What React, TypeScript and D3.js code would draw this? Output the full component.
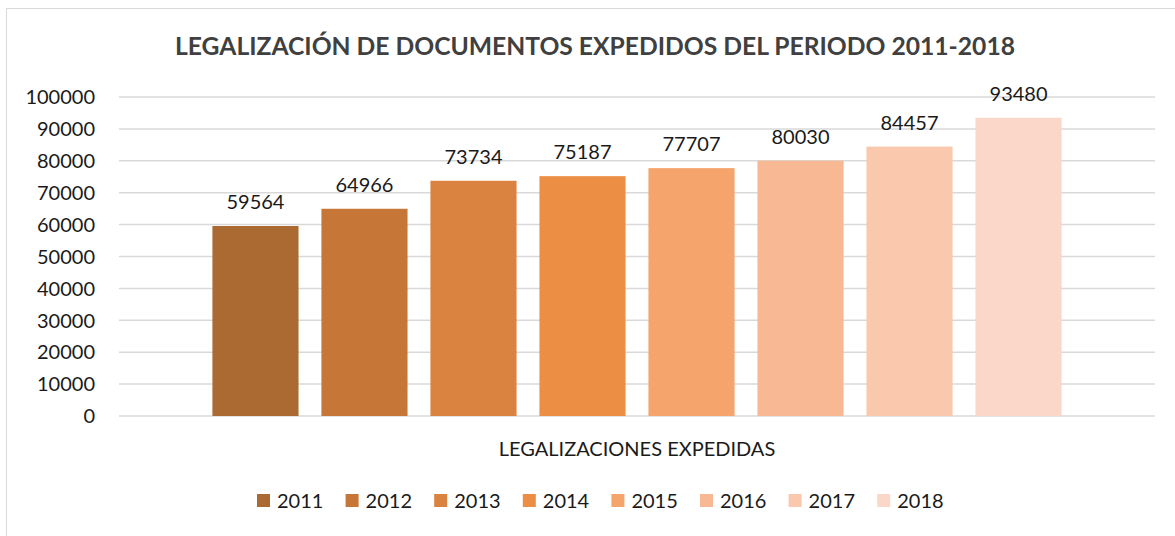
import * as d3 from 'd3';

const title = 'LEGALIZACIÓN DE DOCUMENTOS EXPEDIDOS DEL PERIODO 2011-2018';
const category = 'LEGALIZACIONES EXPEDIDAS';
const years = ['2011', '2012', '2013', '2014', '2015', '2016', '2017', '2018'];
const values = [59564, 64966, 73734, 75187, 77707, 80030, 84457, 93480];
const colors = ['#ab6a31', '#c67737', '#da8240', '#ec8f45', '#f5a46b', '#f7b893', '#f9c8ad', '#fad7c8'];
const yTicks = [0, 10000, 20000, 30000, 40000, 50000, 60000, 70000, 80000, 90000, 100000];

const W = 1175;
const H = 536;
const plot = { left: 119, right: 1155, top: 97, bottom: 416 };
const font = 'Lato, "Open Sans", sans-serif';

export default function App() {
  const y = d3.scaleLinear().domain([0, 100000]).range([plot.bottom, plot.top]);
  const x0 = d3.scaleBand<string>().domain([category]).range([plot.left, plot.right]).paddingOuter(0.11);
  const x1 = d3.scaleBand<string>().domain(years).range([0, x0.bandwidth()]).paddingInner(0.21);
  const gx = x0(category) ?? 0;

  // legend layout
  const legStep = 88.6;
  const legX0 = 257;
  const legY = 500.5;

  return (
    <svg width={W} height={H} style={{ position: 'absolute', left: 0, top: 0, background: '#fff' }}>
      <rect x={6.5} y={8.5} width={1200} height={560} fill="#fff" stroke="#d9d9d9" strokeWidth={1} />
      <text
        x={595}
        y={55}
        textAnchor="middle"
        fontFamily={font}
        fontWeight={700}
        fontSize={24}
        fill="#404040"
        textLength={840}
        lengthAdjust="spacingAndGlyphs"
      >
        {title}
      </text>

      {yTicks.map(t => (
        <g key={t}>
          <line x1={plot.left} x2={plot.right} y1={y(t)} y2={y(t)} stroke="#d9d9d9" strokeWidth={1.5} />
          <text x={95} y={y(t)} dy="0.36em" textAnchor="end" fontFamily={font} fontSize={20} fill="#1a1a1a">
            {t}
          </text>
        </g>
      ))}

      {years.map((yr, i) => (
        <g key={yr}>
          <rect x={gx + (x1(yr) ?? 0)} y={y(values[i])} width={x1.bandwidth()} height={y(0) - y(values[i])} fill={colors[i]} />
          <text
            x={gx + (x1(yr) ?? 0) + x1.bandwidth() / 2}
            y={y(values[i]) - 17}
            textAnchor="middle"
            fontFamily={font}
            fontSize={20}
            fill="#1a1a1a"
          >
            {values[i]}
          </text>
        </g>
      ))}

      <text x={gx + x0.bandwidth() / 2} y={456} textAnchor="middle" fontFamily={font} fontSize={20} fill="#1a1a1a">
        {category}
      </text>

      {years.map((yr, i) => (
        <g key={'leg' + yr} transform={`translate(${legX0 + i * legStep},${legY})`}>
          <rect x={0} y={-6.5} width={13} height={13} fill={colors[i]} />
          <text x={20} y={0} dy="0.36em" fontFamily={font} fontSize={20} fill="#1a1a1a">
            {yr}
          </text>
        </g>
      ))}
    </svg>
  );
}
